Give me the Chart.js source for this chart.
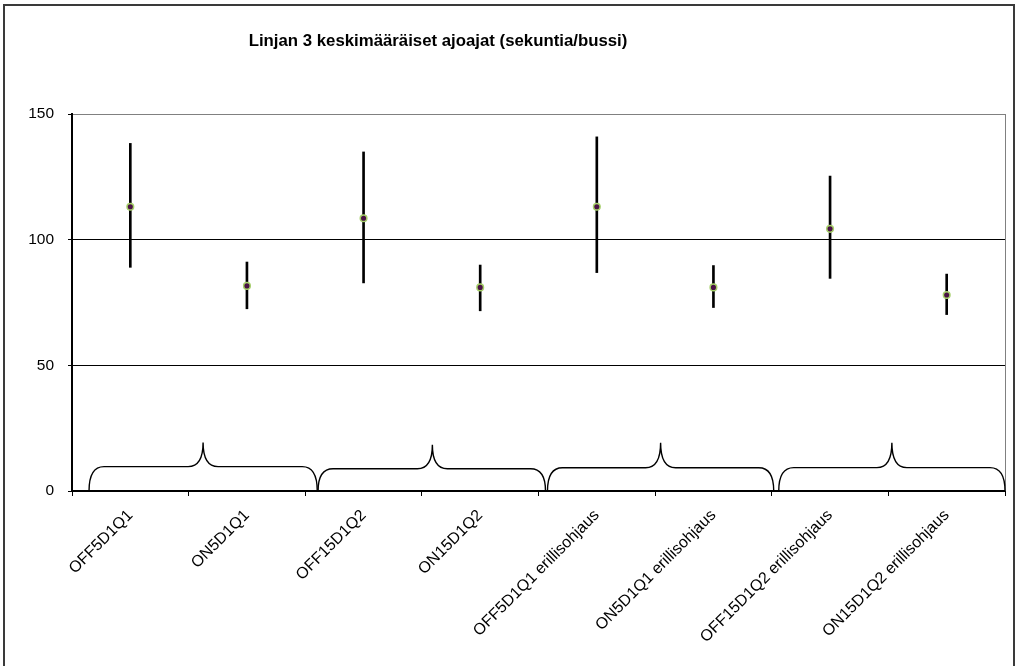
<!DOCTYPE html>
<html>
<head>
<meta charset="utf-8">
<script src="https://cdn.jsdelivr.net/npm/chart.js@4/dist/chart.umd.min.js"></script>
<style>
  html, body { margin: 0; padding: 0; background: #fff; width: 1018px; height: 666px; overflow: hidden; }
  #frame { position: absolute; left: 3px; top: 4px; width: 1012px; height: 700px; border: 2px solid #3a3a3a; box-sizing: border-box; }
  #wrap { position: absolute; left: 0; top: 0; width: 1018px; height: 666px; }
</style>
</head>
<body>
<div id="frame"></div>
<div id="wrap"><canvas id="c" width="1018" height="666"></canvas></div>
<script>
const chartTitle = 'Linjan 3 keskimääräiset ajoajat (sekuntia/bussi)';
const categories = ['OFF5D1Q1', 'ON5D1Q1', 'OFF15D1Q2', 'ON15D1Q2',
  'OFF5D1Q1 erillisohjaus', 'ON5D1Q1 erillisohjaus', 'OFF15D1Q2 erillisohjaus', 'ON15D1Q2 erillisohjaus'];
const meanValues = [113.1, 81.6, 108.5, 81.0, 113.1, 81.0, 104.3, 78.0];
const lowValues  = [89.0, 72.5, 82.8, 71.7, 86.9, 73.0, 84.6, 70.2];
const highValues = [138.3, 91.1, 134.9, 89.9, 140.9, 89.7, 125.3, 86.3];
const yTicks = [0, 50, 100, 150];

// curly braces grouping pairs of categories (positions in category-index units, heights in axis units)
const braceStart = [-0.354, 1.61, 3.577, 5.56];
const braceEnd   = [1.603, 3.56, 5.517, 7.5];
const braceTip   = [0.624, 2.59, 4.547, 6.53];
const braceLevel = [9.7, 8.85, 9.25, 9.3];
const bracePeak  = [19.3, 18.4, 19.2, 19.2];

const ranges = lowValues.map((v, i) => [v, highValues[i]]);

const FONT = "'Liberation Sans', Arial, sans-serif";

const bracePlugin = {
  id: 'braces',
  afterDatasetsDraw(chart) {
    const ctx = chart.ctx, xs = chart.scales.x, ys = chart.scales.y;
    ctx.save();
    ctx.strokeStyle = '#000';
    ctx.lineWidth = 1.4;
    for (let i = 0; i < braceStart.length; i++) {
      const x0 = xs.getPixelForValue(braceStart[i]);
      const x1 = xs.getPixelForValue(braceEnd[i]);
      const xm = xs.getPixelForValue(braceTip[i]);
      const yb = ys.getPixelForValue(0);
      const yh = ys.getPixelForValue(braceLevel[i]);
      const yp = ys.getPixelForValue(bracePeak[i]);
      const r = 15;
      ctx.beginPath();
      ctx.moveTo(x0, yb);
      ctx.quadraticCurveTo(x0, yh, x0 + r, yh);
      ctx.lineTo(xm - r, yh);
      ctx.quadraticCurveTo(xm, yh, xm, yp);
      ctx.quadraticCurveTo(xm, yh, xm + r, yh);
      ctx.lineTo(x1 - r, yh);
      ctx.quadraticCurveTo(x1, yh, x1, yb);
      ctx.stroke();
    }
    ctx.restore();
  }
};

const framePlugin = {
  id: 'plotFrame',
  beforeDatasetsDraw(chart) {
    const ctx = chart.ctx, a = chart.chartArea;
    ctx.save();
    ctx.strokeStyle = '#808080';
    ctx.lineWidth = 1;
    ctx.beginPath();
    ctx.moveTo(Math.round(a.right) + 0.5, a.top);
    ctx.lineTo(Math.round(a.right) + 0.5, a.bottom);
    ctx.stroke();
    ctx.restore();
  }
};

const titlePlugin = {
  id: 'customTitle',
  afterDraw(chart) {
    const ctx = chart.ctx;
    ctx.save();
    ctx.font = 'bold 16.8px ' + FONT;
    ctx.fillStyle = '#000';
    ctx.textAlign = 'center';
    ctx.textBaseline = 'middle';
    ctx.fillText(chartTitle, 438, 41);
    ctx.restore();
  }
};

new Chart(document.getElementById('c'), {
  type: 'bar',
  data: {
    labels: categories,
    datasets: [
      {
        type: 'line',
        label: 'keskiarvo',
        data: meanValues,
        showLine: false,
        pointRadius: 3.3,
        pointBorderWidth: 1.5,
        pointBackgroundColor: '#4a1244',
        pointBorderColor: '#a6cf6a',
        order: 0
      },
      {
        type: 'bar',
        label: 'vaihteluväli',
        data: ranges,
        backgroundColor: '#000',
        borderWidth: 0,
        barThickness: 2,
        order: 1
      }
    ]
  },
  options: {
    responsive: false,
    animation: false,
    devicePixelRatio: 1,
    layout: { padding: { top: 114, right: 13, bottom: 0, left: 0 } },
    plugins: { legend: { display: false }, tooltip: { enabled: false }, title: { display: false } },
    scales: {
      x: {
        offset: true,
        grid: { display: true, drawOnChartArea: false, drawTicks: true, tickLength: 5, tickColor: '#000', offset: true },
        border: { display: true, color: '#000', width: 2 },
        ticks: {
          autoSkip: false, maxRotation: 45, minRotation: 45, color: '#000', padding: 10,
          font: { family: FONT, size: 16 }
        },
        afterFit(s) { s.height = 175; }
      },
      y: {
        min: 0, max: 150,
        afterBuildTicks(s) { s.ticks = yTicks.map(v => ({ value: v })); },
        grid: {
          color: (c) => c.tick && c.tick.value === 150 ? '#808080' : '#000',
          lineWidth: 1, tickLength: 4, tickColor: '#000', drawTicks: true
        },
        border: { display: true, color: '#000', width: 2 },
        ticks: { color: '#000', padding: 14, font: { family: FONT, size: 15.5 } },
        afterFit(s) { s.width = 72; }
      }
    }
  },
  plugins: [framePlugin, bracePlugin, titlePlugin]
});
</script>
</body>
</html>
